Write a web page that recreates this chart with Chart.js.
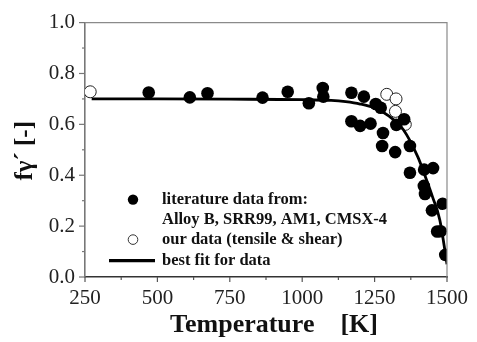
<!DOCTYPE html>
<html>
<head>
<meta charset="utf-8">
<script src="https://cdn.jsdelivr.net/npm/chart.js@4/dist/chart.umd.min.js"></script>
<style>
  html, body { margin: 0; padding: 0; background: #fff; }
  #chart { display: block; }
</style>
</head>
<body>
<canvas id="chart" width="477" height="342"></canvas>
<script>
// Literature data (filled circles): temperature [K] and gamma' fraction
const litTemp = [470, 612, 673, 863, 950, 1023, 1071, 1073, 1170, 1213, 1254, 1271,
  1170, 1200, 1236, 1279, 1276, 1321, 1325, 1352, 1372, 1372, 1421, 1452,
  1420, 1424, 1448, 1485, 1466, 1478, 1494];
const litFrac = [0.725, 0.706, 0.722, 0.705, 0.728, 0.683, 0.743, 0.709, 0.724, 0.709, 0.680, 0.665,
  0.612, 0.594, 0.603, 0.566, 0.515, 0.491, 0.598, 0.620, 0.515, 0.410, 0.422, 0.428,
  0.358, 0.326, 0.262, 0.288, 0.179, 0.180, 0.087];

// Our data (open circles)
const ownTemp = [268, 1292, 1324, 1322, 1356];
const ownFrac = [0.728, 0.718, 0.700, 0.651, 0.600];

// Best fit curve
const fitTemp = [273, 500, 750, 1000, 1100, 1150, 1200, 1250, 1300, 1350, 1400, 1425, 1450, 1475, 1490, 1500];
const fitFrac = [0.700, 0.700, 0.699, 0.697, 0.694, 0.689, 0.680, 0.664, 0.632, 0.578, 0.470, 0.395, 0.315, 0.225, 0.125, 0.050];

// Axis ranges / ticks
const xMin = 250, xMax = 1500, xStep = 250;
const yMin = 0, yMax = 1.0, yStep = 0.2;

const legendLines = ['literature data from:', 'Alloy B, SRR99, AM1, CMSX-4', 'our data (tensile & shear)', 'best fit for data'];
const xTitle = 'Temperature    [K]';
const yTitle = 'f\u03B3\u00B4 [-]';

const SERIF = '"Liberation Serif", "Times New Roman", serif';

function toPoints(xs, ys) {
  return xs.map((x, i) => ({ x: x, y: ys[i] }));
}

// Frame, tick marks, titles and the in-plot legend
const decorPlugin = {
  id: 'decor',
  afterDraw(chart) {
    const ctx = chart.ctx;
    const area = chart.chartArea;
    const xs = chart.scales.x;
    const ys = chart.scales.y;
    ctx.save();

    // top and right frame lines
    ctx.strokeStyle = '#8a8a8a';
    ctx.lineWidth = 1.2;
    ctx.beginPath();
    ctx.moveTo(area.left, area.top);
    ctx.lineTo(area.right, area.top);
    ctx.lineTo(area.right, area.bottom);
    ctx.stroke();

    // x ticks: major + minor (outward)
    ctx.strokeStyle = '#555';
    ctx.lineWidth = 1.2;
    xs.ticks.forEach((t, i) => {
      const px = xs.getPixelForValue(t.value);
      ctx.beginPath();
      ctx.moveTo(px, area.bottom);
      ctx.lineTo(px, area.bottom + 5);
      ctx.stroke();
      if (i < xs.ticks.length - 1) {
        const mx = xs.getPixelForValue(t.value + xStep / 2);
        ctx.beginPath();
        ctx.moveTo(mx, area.bottom);
        ctx.lineTo(mx, area.bottom + 3);
        ctx.stroke();
      }
    });

    // y ticks: major + minor (outward)
    ctx.strokeStyle = '#777';
    ys.ticks.forEach((t, i) => {
      const py = ys.getPixelForValue(t.value);
      ctx.beginPath();
      ctx.moveTo(area.left, py);
      ctx.lineTo(area.left - 6, py);
      ctx.stroke();
      if (i < ys.ticks.length - 1) {
        const my = ys.getPixelForValue(t.value + yStep / 2);
        ctx.beginPath();
        ctx.moveTo(area.left, my);
        ctx.lineTo(area.left - 3, my);
        ctx.stroke();
      }
    });

    // axis titles
    ctx.fillStyle = '#111';
    ctx.textBaseline = 'middle';
    ctx.textAlign = 'center';
    ctx.font = 'bold 26px ' + SERIF;
    ctx.fillText(xTitle, (area.left + area.right) / 2 + 8, 325);

    ctx.save();
    ctx.translate(26, (area.top + area.bottom) / 2 + 1);
    ctx.rotate(-Math.PI / 2);
    ctx.font = 'bold 25px ' + SERIF;
    ctx.fillText(yTitle, 0, 0);
    ctx.restore();

    // legend
    const mx = area.left + 48;
    const tx = area.left + 77;
    const rows = [area.top + 177, area.top + 197, area.top + 217, area.top + 238];

    ctx.fillStyle = '#000';
    ctx.beginPath();
    ctx.arc(mx, rows[0], 5.2, 0, Math.PI * 2);
    ctx.fill();

    ctx.strokeStyle = '#333';
    ctx.lineWidth = 1;
    ctx.fillStyle = '#fff';
    ctx.beginPath();
    ctx.arc(mx, rows[2], 4.8, 0, Math.PI * 2);
    ctx.fill();
    ctx.stroke();

    ctx.strokeStyle = '#000';
    ctx.lineWidth = 3.2;
    ctx.beginPath();
    ctx.moveTo(area.left + 24, rows[3]);
    ctx.lineTo(area.left + 70, rows[3]);
    ctx.stroke();

    ctx.fillStyle = '#111';
    ctx.textAlign = 'left';
    ctx.font = 'bold 16.5px ' + SERIF;
    legendLines.forEach((txt, i) => ctx.fillText(txt, tx, rows[i]));

    ctx.restore();
  }
};

new Chart(document.getElementById('chart'), {
  type: 'scatter',
  data: {
    datasets: [
      {
        label: 'best fit for data',
        data: toPoints(fitTemp, fitFrac),
        showLine: true,
        borderColor: '#000',
        borderWidth: 2.8,
        pointRadius: 0,
        cubicInterpolationMode: 'monotone',
        clip: 0,
        order: 1
      },
      {
        label: 'literature data',
        data: toPoints(litTemp, litFrac),
        backgroundColor: '#000',
        borderColor: '#000',
        borderWidth: 0,
        pointRadius: 6.3,
        clip: 0,
        order: 2
      },
      {
        label: 'our data',
        data: toPoints(ownTemp, ownFrac),
        backgroundColor: '#fff',
        borderColor: '#222',
        borderWidth: 1,
        pointRadius: 6,
        clip: 0,
        order: 3
      }
    ]
  },
  options: {
    responsive: false,
    animation: false,
    events: [],
    layout: { padding: { top: 16, right: 23, left: 0, bottom: 0 } },
    plugins: {
      legend: { display: false },
      tooltip: { enabled: false }
    },
    scales: {
      x: {
        type: 'linear',
        min: xMin,
        max: xMax,
        afterFit: (scale) => { scale.height = 65; },
        grid: { display: false, drawTicks: false },
        border: { display: true, color: '#333', width: 1.6 },
        ticks: {
          stepSize: xStep,
          padding: 9,
          maxRotation: 0,
          color: '#222',
          font: { family: SERIF, size: 21 },
          callback: (v) => String(v)
        }
      },
      y: {
        type: 'linear',
        min: yMin,
        max: yMax,
        afterFit: (scale) => { scale.width = 85; },
        grid: { display: false, drawTicks: false },
        border: { display: true, color: '#777', width: 1.6 },
        ticks: {
          stepSize: yStep,
          padding: 10,
          color: '#222',
          font: { family: SERIF, size: 21 },
          callback: (v) => v.toFixed(1)
        }
      }
    }
  },
  plugins: [decorPlugin]
});
</script>
</body>
</html>
